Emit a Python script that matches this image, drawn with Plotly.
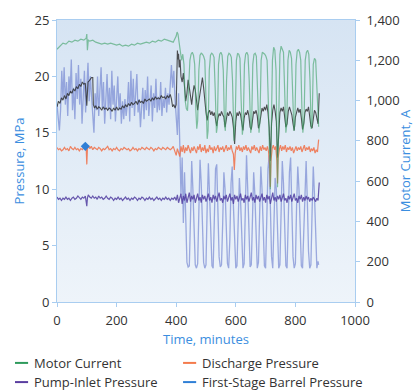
import plotly.graph_objects as go

# ---------------- data ----------------
# Motor current (A, right axis)
mc_t = [0,10,20,30,40,50,60,70,80,90,98,100,102,105,110,120,130,140,150,160,170,180,190,200,210,220,230,240,250,260,270,280,290,300,310,320,330,340,350,360,370,380,390,
        400,403,406,410,414,418,422,426,430,434,438,442,446,450,454,458,462,466,469,472,476,480,484,488,492,496,500,504,507,511,515,519,523,527,531,535,538,542,546,550,554,558,562,565,569,573,577,581,585,589,594,598,602,606,610,614,618,622,625,629,633,637,641,645,650,653,657,661,665,669,673,678,681,685,689,693,697,701,705,709,713,716,719,723,727,731,735,740,744,748,752,756,760,764,768,771,775,779,783,787,791,795,798,802,806,810,814,818,822,825,829,833,837,841,845,849,853,856,860,864,868,872,876,878]
mc_v = [1255,1270,1285,1280,1295,1290,1300,1295,1305,1300,1310,1330,1250,1300,1295,1300,1290,1285,1280,1285,1280,1285,1280,1275,1280,1270,1275,1270,1280,1275,1285,1280,1285,1290,1285,1295,1290,1300,1295,1305,1300,1295,1290,
        1320,1340,1330,1290,1240,1200,1230,1180,1000,960,950,1050,1200,1230,1240,1225,1180,950,860,900,1150,1225,1235,1230,1220,1200,1000,810,850,1150,1225,1235,1230,1215,1050,840,870,1180,1230,1240,1225,1150,880,850,1100,1220,1235,1230,1215,1100,800,900,1200,1235,1230,1210,1000,830,880,1180,1230,1240,1225,1100,840,870,1180,1230,1235,1220,1050,840,900,1200,1240,1235,1230,1220,1200,1000,700,560,850,1200,1265,1250,1150,570,900,1230,1270,1255,1240,1050,840,880,1200,1250,1240,1210,1000,850,880,1180,1245,1255,1240,1200,950,840,900,1200,1240,1250,1230,1100,860,880,1180,1210,1200,1050,880,870]

# Unlabelled dark trace (MPa, left axis)
bk_t = [0,5,10,15,20,25,30,35,40,45,50,55,60,65,70,75,80,85,90,95,100,102,104,108,112,116,120,122,126,130,135,140,145,150,155,160,165,170,175,180,185,190,195,200,205,210,215,220,225,230,235,240,245,250,255,260,265,270,275,280,285,290,295,300,305,310,315,320,325,330,335,340,345,350,355,360,365,370,375,380,384,388,392,396,
        400,402,404,406,408,410,413,416,420,424,428,432,436,440,444,448,452,456,460,464,468,472,476,480,484,488,492,496,500,504,508,512,516,520,524,528,532,536,540,544,548,552,556,560,564,568,572,576,580,584,588,592,596,600,604,608,612,616,620,624,628,632,636,640,644,648,652,656,660,664,668,672,676,680,684,688,692,696,700,704,708,712,716,720,724,728,732,736,740,744,748,752,756,760,764,768,772,776,780,784,788,792,796,800,804,808,812,816,820,824,828,832,836,840,844,848,852,856,860,864,868,872,876,880]
bk_v = [17.3,17.8,17.6,18.1,17.9,18.3,18.0,18.5,18.3,18.7,18.5,18.9,18.7,19.1,18.9,19.3,19.1,19.5,19.3,19.4,17.4,19.5,19.5,19.6,19.8,19.9,19.9,17.5,17.2,17.4,17.1,17.3,17.2,17.0,17.3,17.1,17.2,17.0,17.2,17.1,16.9,17.2,17.0,17.3,17.0,17.2,17.1,17.4,17.2,17.5,17.3,17.6,17.4,17.7,17.5,17.6,17.8,17.5,17.9,17.7,17.8,17.6,18.0,17.8,17.9,18.0,17.8,18.1,17.9,18.2,18.0,18.1,18.0,18.3,18.1,18.2,18.0,18.3,18.1,18.4,18.0,17.3,17.5,17.2,
        17.5,20.5,22.3,21.5,22.0,20.8,21.5,20.0,19.5,20.3,18.5,17.8,18.5,19.7,19.0,18.0,17.5,18.5,19.2,18.8,17.5,17.0,17.8,18.5,19.3,19.9,19.0,17.5,16.8,16.1,16.8,17.0,16.6,16.9,16.5,16.8,16.2,15.6,16.3,16.7,16.5,16.9,16.6,16.4,15.5,16.2,16.8,16.5,16.9,16.7,16.4,15.5,14.0,16.0,16.8,16.5,16.9,16.6,15.8,15.2,16.3,16.8,16.6,17.0,16.5,15.5,15.3,16.4,16.9,16.7,17.0,16.5,15.4,15.8,16.8,17.2,16.9,17.3,17.0,17.5,16.8,15.5,12.5,15.8,17.0,17.5,16.9,16.0,12.8,15.5,16.8,17.2,16.9,17.3,16.5,15.5,15.8,16.9,17.3,17.0,16.6,15.8,15.2,16.4,16.9,17.2,16.8,17.1,16.3,15.3,15.8,16.8,17.1,16.9,17.3,16.6,15.6,15.4,16.5,17.0,16.8,16.2,15.8,18.5]

# First-stage barrel pressure (MPa)
fb_t = [0,4,8,12,16,20,24,28,32,36,40,44,48,52,56,60,64,68,72,76,80,84,88,92,96,100,104,108,112,116,120,124,128,132,136,140,144,148,152,156,160,164,168,172,176,180,184,188,192,196,200,204,208,212,216,220,224,228,232,236,240,244,248,252,256,260,264,268,272,276,280,284,288,292,296,300,304,308,312,316,320,324,328,332,336,340,344,348,352,356,360,364,368,372,376,380,384,388,392,396,
        400,404,408,412,416,420,424,428,432,436,440,444,448,452,456,460,464,468,472,476,480,484,488,492,496,500,504,508,512,516,520,524,528,532,536,540,544,548,552,556,560,564,568,572,576,580,584,588,592,596,600,604,608,612,616,620,624,628,632,636,640,644,648,652,656,660,664,668,672,676,680,684,688,692,696,700,704,708,712,716,720,724,728,732,736,740,744,748,752,756,760,764,768,772,776,780,784,788,792,796,800,804,808,812,816,820,824,828,832,836,840,844,848,852,856,860,864,868,872,876,878]
fb_v = [17.5,16.0,15.2,17.0,20.5,18.0,20.8,17.5,19.5,16.5,20.0,18.5,21.5,17.0,19.0,16.2,20.3,18.0,21.0,17.5,19.8,15.8,18.5,20.5,16.8,19.0,21.2,17.8,20.0,18.2,16.0,15.0,18.5,17.0,20.0,16.5,18.8,20.8,17.2,19.5,15.8,18.0,20.2,17.0,19.0,16.2,20.5,17.5,19.2,16.0,18.8,20.0,17.0,18.5,15.8,17.8,16.2,18.0,16.5,17.5,19.5,16.0,20.5,17.2,19.8,16.5,18.5,20.2,16.8,18.0,15.5,17.5,19.0,16.2,18.8,17.0,20.0,16.5,17.8,19.2,16.0,18.5,17.2,19.8,16.8,18.2,17.0,19.5,16.5,18.0,17.2,19.0,16.8,18.5,17.5,20.0,21.0,19.0,20.5,18.0,
        16.5,14.8,18.5,13.5,9.5,12.8,7.0,11.5,6.0,3.5,3.1,3.2,7.5,12.5,10.0,6.5,3.3,3.0,3.4,8.0,12.6,10.5,7.0,3.5,3.0,3.3,8.5,12.3,9.5,5.5,3.2,3.0,6.5,11.8,12.2,8.0,4.0,3.1,3.3,7.0,11.5,10.0,6.0,3.4,3.0,5.5,10.5,12.0,8.5,4.5,3.0,3.2,8.0,11.0,9.0,5.0,3.0,3.4,9.0,13.0,10.0,5.5,3.1,3.3,7.5,11.5,9.5,5.0,3.0,3.5,8.5,12.0,10.0,5.5,3.2,3.0,7.0,11.8,13.0,9.0,4.0,3.0,6.5,11.0,10.0,5.0,3.0,3.3,8.0,12.5,10.5,6.0,3.2,3.0,7.0,11.5,12.8,8.5,4.0,3.0,3.4,8.5,12.0,10.0,5.5,3.2,3.0,6.5,11.0,12.5,9.0,4.5,3.0,3.3,8.0,12.0,9.5,5.0,3.0,3.6,3.3]

# Discharge pressure (MPa)
dp_t = [0,5,10,15,20,25,30,35,40,45,50,55,60,65,70,75,80,85,90,95,98,100,102,105,110,115,120,125,130,135,140,145,150,155,160,165,170,175,180,185,190,195,200,205,210,215,220,225,230,235,240,245,250,255,260,265,270,275,280,285,290,295,300,305,310,315,320,325,330,335,340,345,350,355,360,365,370,375,380,385,390,395,
        400,404,408,412,416,420,424,428,432,436,440,444,448,452,456,460,464,468,472,476,480,484,488,492,496,500,504,508,512,516,520,524,528,532,536,540,544,548,552,556,560,564,568,572,576,580,584,588,592,595,598,602,606,610,614,618,622,626,630,634,638,642,646,650,654,658,662,666,670,674,678,682,686,690,694,698,702,706,710,714,716,718,722,726,730,734,738,740,742,746,750,754,758,762,766,770,774,778,782,786,790,794,798,802,806,810,814,818,822,826,830,834,838,842,846,850,854,858,862,866,870,874,878]
dp_v = [13.7,13.5,13.6,13.4,13.5,13.7,13.5,13.6,13.4,13.8,13.6,13.5,13.7,13.5,13.6,13.4,13.6,13.5,13.7,13.8,13.6,12.2,13.5,13.9,13.6,13.8,13.5,13.7,13.6,13.5,13.7,13.6,13.4,13.6,13.5,13.7,13.8,13.5,13.6,13.4,13.6,13.5,13.7,13.5,13.4,13.6,13.5,13.7,13.6,13.5,13.6,13.4,13.5,13.7,13.5,13.6,13.4,13.6,13.5,13.7,13.6,13.5,13.7,13.6,13.5,13.7,13.6,13.4,13.6,13.5,13.7,13.6,13.5,13.7,13.6,13.5,13.7,13.6,13.5,13.6,13.8,13.4,
        13.0,13.6,13.2,12.9,13.8,13.3,13.9,13.2,13.7,13.4,13.9,13.5,13.2,13.7,13.4,13.8,13.5,13.2,13.8,13.5,14.0,13.3,13.7,13.4,13.9,13.2,13.6,13.3,13.9,13.5,13.7,13.2,13.8,13.4,13.6,13.9,13.3,13.7,13.5,13.8,13.3,13.6,13.9,13.4,13.7,13.5,13.9,13.4,13.1,11.7,13.2,13.8,13.5,13.9,13.4,13.7,13.3,13.8,13.5,13.9,13.4,13.7,13.5,13.2,13.8,13.5,13.9,13.4,13.7,13.5,13.2,13.8,13.4,13.9,13.5,13.7,13.4,13.8,13.3,12.0,10.2,12.5,13.6,13.9,13.5,13.8,12.5,10.5,12.8,13.5,13.9,13.4,13.8,13.5,13.9,13.3,13.7,13.5,13.8,13.4,13.7,13.2,13.6,13.8,13.4,13.7,13.5,13.8,13.3,13.6,13.9,13.4,13.7,13.5,13.8,13.3,13.6,13.4,13.7,13.2,13.5,13.3,14.4]

# Pump-inlet pressure (MPa)
pi_t = [0,5,10,15,20,25,30,35,40,45,50,55,60,65,70,75,80,85,90,95,100,102,105,110,115,120,125,130,135,140,145,150,155,160,165,170,175,180,185,190,195,200,205,210,215,220,225,230,235,240,245,250,255,260,265,270,275,280,285,290,295,300,305,310,315,320,325,330,335,340,345,350,355,360,365,370,375,380,385,390,395,
        400,404,408,412,416,420,424,428,432,436,440,444,448,452,456,460,464,468,472,476,480,484,488,492,496,500,504,508,512,516,520,524,528,532,536,540,544,548,552,556,560,564,568,572,576,580,584,588,592,596,600,604,608,612,616,620,624,628,632,636,640,644,648,652,656,660,664,668,672,676,680,684,688,692,696,700,704,708,712,716,720,724,728,732,736,740,744,748,752,756,760,764,768,772,776,780,784,788,792,796,800,804,808,812,816,820,824,828,832,836,840,844,848,852,856,860,864,868,872,876,880]
pi_v = [9.3,9.1,9.2,9.0,9.2,9.1,9.3,9.1,9.2,9.0,9.2,9.3,9.1,9.2,9.4,9.2,9.1,9.3,9.2,9.4,8.5,9.2,9.5,9.3,9.2,9.4,9.2,9.3,9.1,9.4,9.2,9.3,9.1,9.2,9.4,9.2,9.1,9.3,9.2,9.0,9.2,9.1,9.3,9.1,9.2,9.0,9.2,9.3,9.1,9.2,9.0,9.2,9.1,9.3,9.2,9.0,9.2,9.1,9.3,9.2,9.0,9.2,9.1,9.3,9.1,9.2,9.0,9.2,9.3,9.1,9.2,9.0,9.2,9.1,9.3,9.1,9.2,9.0,9.2,9.1,9.3,
        9.0,9.5,8.8,9.3,9.6,8.7,9.4,9.0,9.6,8.8,9.3,9.7,8.9,9.4,9.1,9.5,8.8,9.2,9.6,9.0,9.3,8.8,9.5,9.1,9.4,8.9,9.3,9.6,9.0,9.3,8.8,9.5,9.1,9.4,8.9,9.3,9.7,9.0,9.2,8.8,9.4,9.1,9.5,8.9,9.3,9.6,9.0,9.3,8.7,9.5,9.1,9.4,8.9,9.3,9.6,9.0,9.2,8.8,9.5,9.1,9.4,8.9,9.3,9.7,9.0,9.3,8.8,9.5,9.1,9.4,8.9,9.3,9.6,9.0,9.3,8.8,9.5,9.1,9.4,8.7,9.3,9.7,9.0,9.3,8.9,9.4,9.1,9.5,8.9,9.3,9.6,9.0,9.2,8.8,9.4,9.1,9.5,8.9,9.3,9.6,9.0,9.2,8.8,9.4,9.1,9.5,8.9,9.3,9.0,9.4,9.1,9.3,8.9,9.2,9.0,9.3,9.1,8.9,9.2,9.0,10.6]

# event marker
ev_t = [95]
ev_v = [13.8]

legend_names = ["Motor Current", "Discharge Pressure", "Pump-Inlet Pressure", "First-Stage Barrel Pressure"]
legend_colors = ["#2e9a5c", "#f47b4c", "#5a3ea0", "#2f7fd6"]

x_range = [0, 1000]
y_range = [0, 25]
y2_range = [0, 1400]

# ---------------- figure ----------------
fig = go.Figure()
GRID = "#a9cdf0"
AX = "#3b8ee0"
TXT = "#333333"
FONT = "Open Sans"

# background gradient
fig.add_trace(go.Scatter(x=[x_range[0], x_range[1], x_range[1], x_range[0], x_range[0]],
                         y=[y_range[0], y_range[0], y_range[1], y_range[1], y_range[0]],
                         mode="none", fill="toself", hoverinfo="skip", showlegend=False,
                         fillgradient=dict(type="vertical",
                                           colorscale=[[0, "#eef4fa"], [1, "#d6e4f3"]])))

fig.add_trace(go.Scatter(x=mc_t, y=mc_v, yaxis="y2", mode="lines",
                         line=dict(color="rgba(60,160,100,0.6)", width=1.2), showlegend=False))
fig.add_trace(go.Scatter(x=fb_t, y=fb_v, mode="lines",
                         line=dict(color="rgba(90,110,200,0.55)", width=1.3), showlegend=False))
fig.add_trace(go.Scatter(x=bk_t, y=bk_v, mode="lines",
                         line=dict(color="rgba(40,40,40,0.8)", width=1.1), showlegend=False))
fig.add_trace(go.Scatter(x=dp_t, y=dp_v, mode="lines",
                         line=dict(color="rgba(240,110,70,0.85)", width=1.2), showlegend=False))
fig.add_trace(go.Scatter(x=pi_t, y=pi_v, mode="lines",
                         line=dict(color="rgba(80,60,160,0.85)", width=1.2), showlegend=False))
fig.add_trace(go.Scatter(x=ev_t, y=ev_v, mode="markers",
                         marker=dict(symbol="diamond", size=7, color="#2f7fd6"), showlegend=False))

axis_common = dict(showgrid=True, gridcolor=GRID, gridwidth=1, showline=True, linecolor=GRID,
                   linewidth=1, ticks="outside", ticklen=4, tickcolor=GRID, automargin=False,
                   tickfont=dict(family=FONT, size=13, color=TXT), zeroline=False)

fig.update_layout(
    width=414, height=392,
    margin=dict(l=57, r=59, t=20, b=90),
    paper_bgcolor="white",
    plot_bgcolor="white",
    font=dict(family=FONT, size=13, color=TXT),
    xaxis=dict(range=x_range, dtick=200, mirror=True, ticklabelstandoff=2,
               title=dict(text="Time, minutes", font=dict(family=FONT, size=13, color=AX), standoff=7),
               **axis_common),
    yaxis=dict(range=y_range, dtick=5,
               title=dict(text="Pressure, MPa", font=dict(family=FONT, size=13, color=AX), standoff=6),
               **axis_common),
    yaxis2=dict(range=y2_range, dtick=200, overlaying="y", side="right", tickformat=",",
                ticklabelstandoff=4,
                title=dict(text="Motor Current, A", font=dict(family=FONT, size=13, color=AX), standoff=10),
                **axis_common),
    showlegend=False,
)

# legend built from annotations + swatches
leg_x = [-0.141, 0.423, -0.141, 0.423]
leg_y = [-0.216, -0.216, -0.284, -0.284]
for name, col, lx, ly in zip(legend_names, legend_colors, leg_x, leg_y):
    fig.add_shape(type="line", xref="paper", yref="paper", x0=lx, x1=lx + 0.044, y0=ly, y1=ly,
                  line=dict(color=col, width=2))
    fig.add_annotation(xref="paper", yref="paper", x=lx + 0.056, y=ly, text=name, showarrow=False,
                       xanchor="left", yanchor="middle", font=dict(family=FONT, size=13, color=TXT))

fig.write_html("out.html")
